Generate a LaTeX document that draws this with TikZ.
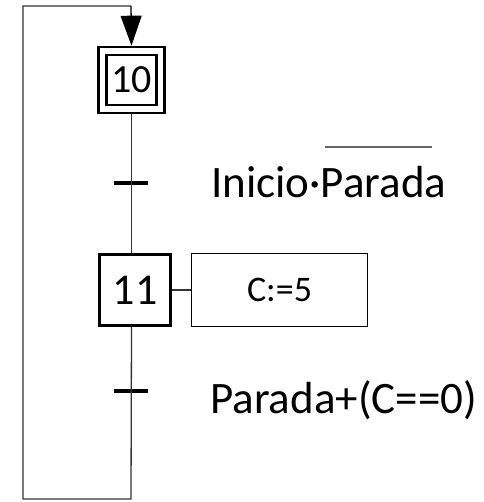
\documentclass[tikz,border=0pt]{standalone}
\usepackage{fontspec}
\setmainfont{Carlito}
\usetikzlibrary{arrows.meta}

\begin{document}
\begin{tikzpicture}
[x=1pt,y=-1pt,
 etapa/.style={draw,line width=2.6pt,inner sep=0pt,minimum width=71pt,minimum height=71pt},
 accion/.style={draw,line width=1.3pt,inner sep=0pt,minimum width=176pt,minimum height=73pt,font=\fontsize{36}{40}\selectfont},
 barra/.style={fill=black,inner sep=0pt,minimum width=34pt,minimum height=4.8pt},
 cond/.style={anchor=base west,inner sep=0pt,font=\fontsize{45}{50}\selectfont},
 hilo/.style={line width=1.3pt,black!80}]

\useasboundingbox (0,0) rectangle (483,502);

% the corners of the return line
\coordinate (R1) at (131,6);
\coordinate (R2) at (23,6);
\coordinate (R3) at (23,499);
\coordinate (R4) at (131,499);

% the ends of the bar over Parada
\coordinate (O1) at (325,147);
\coordinate (O2) at (432,147);

% the steps
\node[etapa,minimum width=66pt,minimum height=66pt] (E10) at (131.5,80) {};
\node[etapa,minimum width=50pt,minimum height=50pt,font=\fontsize{40}{44}\selectfont] (E10i) at (E10) {10};
\node[etapa,font=\fontsize{44}{48}\selectfont] (E11) at (135,290) {11};
\node[accion] (A11) at (279.5,290) {C:=5};

% the transitions
\node[barra] (T1) at (131,183) {};
\node[barra] (T2) at (131,391) {};
\node[cond] (C1) at (211,198) {Inicio·Parada};
\node[cond] (C2) at (210,413) {Parada+(C==0)};

% the links
\draw[hilo] (E10.south) -- (E10.south |- E11.north);
\draw[hilo] (E10.south |- E11.south) -- (R4) -- (R3) -- (R2) -- (R1);
\draw[hilo,-{Triangle[length=30pt,width=21pt]},black] (R1) -- (E10.north);
\draw[hilo] (E11.east) -- (A11.west);
\draw[line width=1.3pt,black!60] (O1) -- (O2);

\end{tikzpicture}
\end{document}
